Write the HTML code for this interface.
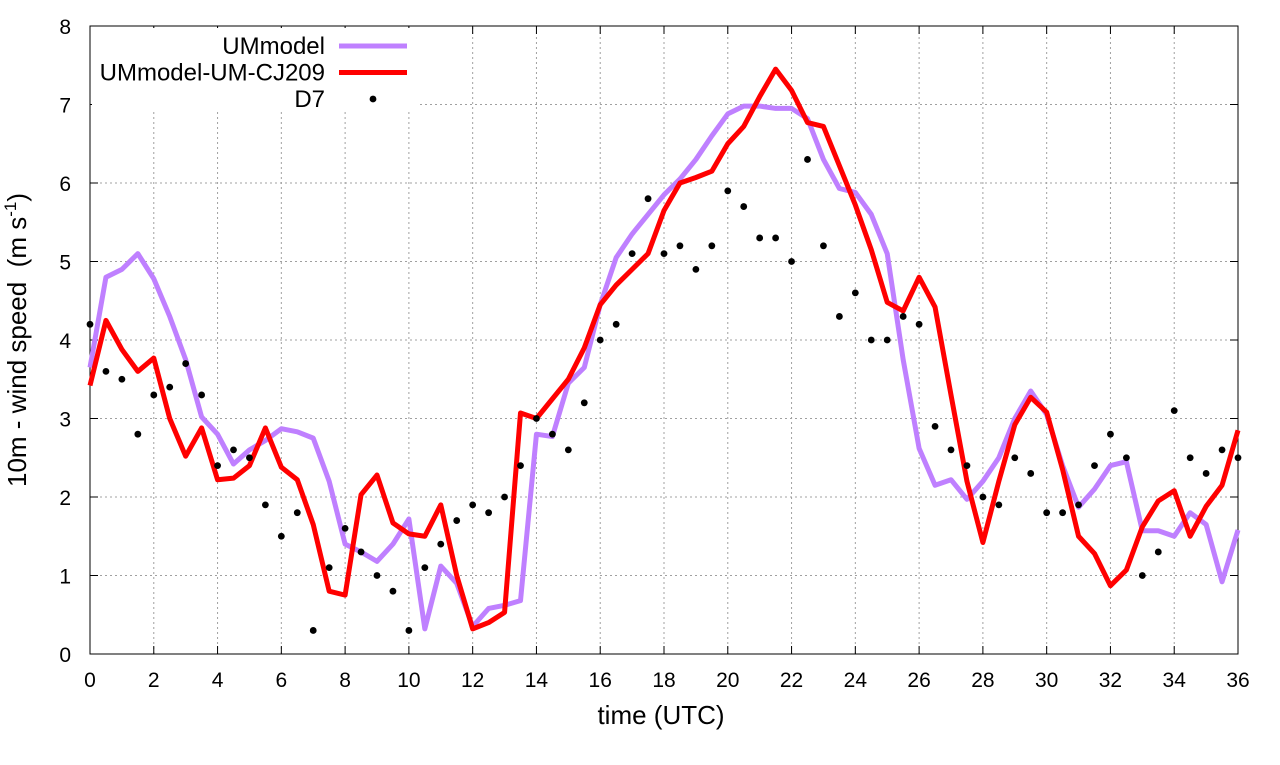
<!DOCTYPE html>
<html><head><meta charset="utf-8"><style>
body{margin:0;background:#fff;}
svg text{font-family:"Liberation Sans",sans-serif;fill:#000;}
</style></head><body>
<svg id="chart" width="1280" height="760" xmlns="http://www.w3.org/2000/svg">
<g id="grid"></g>
<g id="axes"></g>
<g id="series"></g>
<text x="661" y="724" font-size="26" text-anchor="middle">time (UTC)</text>
<text transform="translate(26,340) rotate(-90)" font-size="26" text-anchor="middle" xml:space="preserve">10m - wind speed  (m s<tspan font-size="17" dy="-10">-1</tspan><tspan dy="10">)</tspan></text>
<g id="legend"></g>
</svg>
<script>
const times = [];
for (let i = 0; i <= 72; i++) times.push(i * 0.5);
const umModel = [3.65,4.8,4.9,5.1,4.78,4.3,3.75,3.02,2.8,2.42,2.6,2.72,2.87,2.83,2.75,2.2,1.4,1.3,1.18,1.4,1.72,0.32,1.12,0.9,0.35,0.58,0.62,0.68,2.8,2.77,3.45,3.65,4.45,5.05,5.35,5.6,5.85,6.05,6.3,6.6,6.88,6.98,6.98,6.95,6.95,6.82,6.3,5.93,5.88,5.6,5.1,3.75,2.62,2.15,2.22,1.97,2.2,2.5,3.0,3.35,3.05,2.4,1.87,2.1,2.4,2.45,1.57,1.57,1.5,1.8,1.65,0.92,1.58];
const umCJ209 = [3.42,4.25,3.88,3.6,3.77,3.0,2.52,2.88,2.22,2.24,2.4,2.88,2.38,2.22,1.65,0.8,0.75,2.03,2.28,1.67,1.53,1.5,1.9,1.0,0.32,0.4,0.53,3.07,3.0,3.25,3.5,3.9,4.45,4.7,4.9,5.1,5.65,6.0,6.07,6.15,6.5,6.72,7.1,7.45,7.18,6.77,6.72,6.22,5.72,5.15,4.48,4.37,4.8,4.42,3.3,2.2,1.42,2.2,2.92,3.27,3.08,2.35,1.5,1.28,0.87,1.07,1.62,1.95,2.08,1.5,1.88,2.15,2.85];
const d7 = [4.2,3.6,3.5,2.8,3.3,3.4,3.7,3.3,2.4,2.6,2.5,1.9,1.5,1.8,0.3,1.1,1.6,1.3,1.0,0.8,0.3,1.1,1.4,1.7,1.9,1.8,2.0,2.4,3.0,2.8,2.6,3.2,4.0,4.2,5.1,5.8,5.1,5.2,4.9,5.2,5.9,5.7,5.3,5.3,5.0,6.3,5.2,4.3,4.6,4.0,4.0,4.3,4.2,2.9,2.6,2.4,2.0,1.9,2.5,2.3,1.8,1.8,1.9,2.4,2.8,2.5,1.0,1.3,3.1,2.5,2.3,2.6,2.5];
const xTicks = [0,2,4,6,8,10,12,14,16,18,20,22,24,26,28,30,32,34,36];
const yTicks = [0,1,2,3,4,5,6,7,8];

const X0=90,X1=1238,Y0=654,Y1=26;
const xs = v => X0 + (v-0)/36*(X1-X0);
const ys = v => Y0 - v/8*(Y0-Y1);
const NS="http://www.w3.org/2000/svg";
function mk(tag, attrs, parent){const e=document.createElementNS(NS,tag);for(const k in attrs)e.setAttribute(k,attrs[k]);parent.appendChild(e);return e;}
const grid=document.getElementById('grid'), axes=document.getElementById('axes'), series=document.getElementById('series'), legend=document.getElementById('legend');

xTicks.forEach(t=>{
  const x=xs(t);
  if(t>0&&t<36){const g=mk('line',{x1:x,x2:x,y1:Y0,y2:Y1,stroke:'#a0a0a0','stroke-width':1,'stroke-dasharray':'2,3'},grid);
  
  }
  mk('line',{x1:x,x2:x,y1:Y0,y2:Y0-8,stroke:'#000'},axes);
  mk('line',{x1:x,x2:x,y1:Y1,y2:Y1+8,stroke:'#000'},axes);
  const tx=mk('text',{x:x,y:Y0+33,'font-size':21,'text-anchor':'middle'},axes);
  tx.textContent=t;
  
  
});
yTicks.forEach(t=>{
  const y=ys(t);
  if(t>0&&t<8){const g=mk('line',{x1:X0,x2:X1,y1:y,y2:y,stroke:'#a0a0a0','stroke-width':1,'stroke-dasharray':'2,3'},grid);
  
  }
  mk('line',{x1:X0,x2:X0+8,y1:y,y2:y,stroke:'#000'},axes);
  mk('line',{x1:X1,x2:X1-8,y1:y,y2:y,stroke:'#000'},axes);
  const tx=mk('text',{x:X0-19,y:y+8,'font-size':21,'text-anchor':'end'},axes);
  tx.textContent=t;
  
  
});
const frame=mk('rect',{x:X0,y:Y1,width:X1-X0,height:Y0-Y1,fill:'none',stroke:'#000','stroke-width':1},axes);



function pts(arr){return arr.map((v,i)=>xs(times[i])+','+ys(v)).join(' ');}
const p1=mk('polyline',{points:pts(umModel),fill:'none',stroke:'#bf80ff','stroke-width':5,'stroke-linejoin':'round'},series);


const p2=mk('polyline',{points:pts(umCJ209),fill:'none',stroke:'#ff0000','stroke-width':5,'stroke-linejoin':'round'},series);


d7.forEach((v,i)=>{
  const c=mk('circle',{cx:xs(times[i]),cy:ys(v),r:3.4,fill:'#000'},series);
  
  
});

const bg=mk('rect',{x:92,y:28,width:325,height:84,fill:'#fff'},legend);


const entries=[['UMmodel','#bf80ff','line'],['UMmodel-UM-CJ209','#ff0000','line'],['D7','#000','point']];
entries.forEach((e,i)=>{
  const y=46+i*26.5;
  const g=mk('g',{},legend);
  
  
  const t=mk('text',{x:325,y:y+8,'font-size':24,'text-anchor':'end'},g);
  t.textContent=e[0];
  if(e[2]==='line') mk('line',{x1:339,x2:407,y1:y,y2:y,stroke:e[1],'stroke-width':5},g);
  else mk('circle',{cx:373,cy:y,r:3.4,fill:e[1]},g);
});
</script>
</body></html>
